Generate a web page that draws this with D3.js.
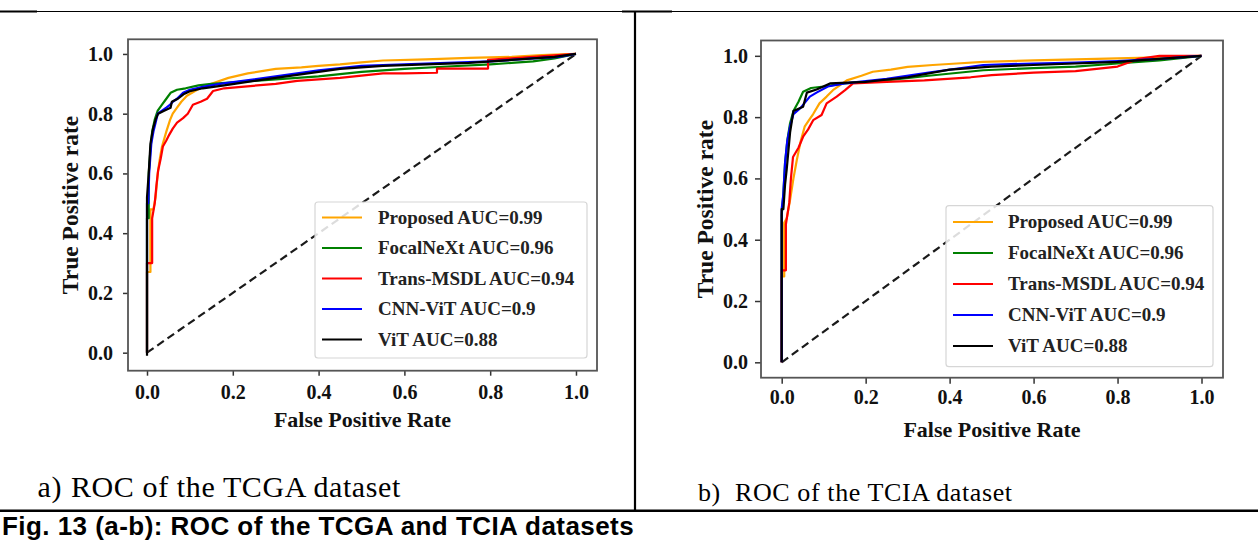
<!doctype html>
<html lang="en">
  <head>
    <meta charset="UTF-8" />
    <title>ROC of the TCGA and TCIA datasets</title>
    <script src="https://d3js.org/d3.v7.min.js"></script>
    <style>
      body {
        margin: 0;
        background: #fff;
      }
      svg text {
        font-family: 'Liberation Serif', 'Times New Roman', serif;
      }
      .tick text {
        font-size: 20px;
        font-weight: bold;
        fill: #111;
      }
      .tick line {
        stroke: #333;
        stroke-width: 1.5;
      }
      .axis-label {
        font-size: 22px;
        font-weight: bold;
        fill: #111;
      }
      .legend-text {
        font-size: 19px;
        font-weight: bold;
        fill: #222;
      }
      .sub-caption {
        fill: #000;
        letter-spacing: 0.6px;
      }
      .fig-caption {
        font-family: 'Liberation Sans', Arial, sans-serif !important;
        font-weight: bold;
        font-size: 26px;
        letter-spacing: 0.45px;
      }
    </style>
  </head>
  <body>
    <svg id="chart" width="1258" height="541"></svg>

    <script>
      // axis ticks and legend labels
      const xTicks = [0, 0.2, 0.4, 0.6, 0.8, 1.0]
      const yTicks = [0, 0.2, 0.4, 0.6, 0.8, 1.0]
      const legendLabels = [
        'Proposed AUC=0.99',
        'FocalNeXt AUC=0.96',
        'Trans-MSDL AUC=0.94',
        'CNN-ViT AUC=0.9',
        'ViT AUC=0.88',
      ]
      const lineColors = ['#ffa500', '#008000', '#ff0000', '#0000ff', '#000000']
      const chanceLine = [[0, 0], [1, 1]]

      // ROC points [fpr, tpr]
      const tcgaProposed = [[0, 0], [0, 0.27], [0.008, 0.27], [0.008, 0.48], [0.015, 0.48], [0.02, 0.52], [0.025, 0.6], [0.03, 0.65], [0.035, 0.69], [0.045, 0.74], [0.054, 0.78], [0.06, 0.8], [0.07, 0.82], [0.08, 0.84], [0.093, 0.86], [0.105, 0.87], [0.124, 0.886], [0.15, 0.9], [0.19, 0.92], [0.235, 0.935], [0.3, 0.95], [0.36, 0.955], [0.4, 0.96], [0.45, 0.965], [0.5, 0.972], [0.55, 0.978], [0.65, 0.982], [0.75, 0.987], [0.85, 0.99], [0.92, 0.996], [1, 1]]
      const tcgaFocalNeXt = [[0, 0], [0, 0.45], [0.004, 0.45], [0.004, 0.6], [0.008, 0.68], [0.012, 0.74], [0.018, 0.78], [0.025, 0.81], [0.035, 0.83], [0.045, 0.85], [0.055, 0.87], [0.07, 0.88], [0.09, 0.885], [0.12, 0.895], [0.15, 0.9], [0.2, 0.905], [0.3, 0.915], [0.4, 0.925], [0.5, 0.94], [0.6, 0.95], [0.7, 0.958], [0.8, 0.965], [0.9, 0.975], [0.95, 0.985], [1, 1]]
      const tcgaTransMSDL = [[0, 0], [0, 0.3], [0.012, 0.3], [0.012, 0.45], [0.018, 0.5], [0.022, 0.56], [0.026, 0.61], [0.032, 0.65], [0.037, 0.69], [0.045, 0.71], [0.052, 0.73], [0.06, 0.75], [0.07, 0.77], [0.084, 0.785], [0.095, 0.8], [0.107, 0.83], [0.125, 0.84], [0.14, 0.85], [0.154, 0.876], [0.18, 0.885], [0.22, 0.89], [0.3, 0.9], [0.35, 0.91], [0.4, 0.915], [0.45, 0.92], [0.55, 0.935], [0.6, 0.935], [0.676, 0.937], [0.676, 0.951], [0.795, 0.951], [0.795, 0.98], [0.9, 0.99], [1, 1]]
      const tcgaCnnVit = [[0, 0], [0, 0.5], [0.003, 0.5], [0.005, 0.6], [0.01, 0.7], [0.015, 0.74], [0.02, 0.77], [0.025, 0.8], [0.035, 0.81], [0.045, 0.82], [0.054, 0.83], [0.06, 0.84], [0.07, 0.85], [0.084, 0.87], [0.1, 0.88], [0.13, 0.89], [0.17, 0.9], [0.25, 0.915], [0.3, 0.925], [0.4, 0.945], [0.5, 0.96], [0.6, 0.965], [0.7, 0.97], [0.8, 0.975], [0.9, 0.985], [0.96, 0.99], [1, 1]]
      const tcgaVit = [[0, -0.01], [0, 0.52], [0.004, 0.6], [0.008, 0.7], [0.014, 0.75], [0.02, 0.78], [0.026, 0.8], [0.04, 0.81], [0.055, 0.82], [0.058, 0.84], [0.072, 0.85], [0.085, 0.865], [0.1, 0.875], [0.13, 0.885], [0.18, 0.895], [0.25, 0.91], [0.35, 0.93], [0.45, 0.95], [0.55, 0.96], [0.65, 0.965], [0.75, 0.97], [0.85, 0.98], [0.95, 0.99], [1, 1]]

      // ROC points [fpr, tpr]
      const tciaProposed = [[0, 0], [0, 0.28], [0.006, 0.28], [0.006, 0.455], [0.012, 0.47], [0.02, 0.53], [0.028, 0.6], [0.036, 0.66], [0.045, 0.72], [0.055, 0.77], [0.065, 0.79], [0.075, 0.81], [0.09, 0.845], [0.107, 0.867], [0.122, 0.888], [0.14, 0.905], [0.155, 0.92], [0.19, 0.935], [0.217, 0.948], [0.26, 0.955], [0.3, 0.964], [0.36, 0.97], [0.417, 0.975], [0.48, 0.98], [0.6, 0.985], [0.75, 0.99], [0.9, 0.995], [1, 1]]
      const tciaFocalNeXt = [[0, 0], [0, 0.48], [0.004, 0.55], [0.008, 0.65], [0.014, 0.73], [0.02, 0.78], [0.028, 0.82], [0.04, 0.85], [0.051, 0.883], [0.07, 0.895], [0.1, 0.9], [0.15, 0.91], [0.25, 0.92], [0.35, 0.935], [0.48, 0.953], [0.6, 0.96], [0.7, 0.965], [0.8, 0.975], [0.9, 0.985], [1, 1]]
      const tciaTransMSDL = [[0, 0], [0, 0.3], [0.01, 0.3], [0.01, 0.45], [0.018, 0.52], [0.022, 0.6], [0.027, 0.67], [0.04, 0.7], [0.051, 0.736], [0.063, 0.76], [0.075, 0.79], [0.095, 0.807], [0.107, 0.845], [0.131, 0.867], [0.151, 0.888], [0.17, 0.91], [0.25, 0.915], [0.34, 0.92], [0.45, 0.93], [0.5, 0.937], [0.6, 0.945], [0.7, 0.95], [0.8, 0.965], [0.85, 0.99], [0.9, 1.0], [1, 1]]
      const tciaCnnVit = [[0, 0], [0, 0.5], [0.004, 0.55], [0.008, 0.65], [0.013, 0.72], [0.02, 0.77], [0.028, 0.81], [0.045, 0.83], [0.067, 0.867], [0.083, 0.88], [0.11, 0.9], [0.15, 0.91], [0.25, 0.925], [0.35, 0.945], [0.48, 0.97], [0.6, 0.975], [0.7, 0.978], [0.8, 0.983], [0.9, 0.99], [1, 1]]
      const tciaVit = [[0, 0], [0, 0.5], [0.004, 0.5], [0.008, 0.58], [0.012, 0.63], [0.02, 0.75], [0.028, 0.82], [0.051, 0.834], [0.06, 0.88], [0.083, 0.89], [0.115, 0.91], [0.2, 0.915], [0.3, 0.93], [0.4, 0.955], [0.5, 0.965], [0.6, 0.97], [0.7, 0.975], [0.8, 0.98], [0.9, 0.99], [1, 1]]

      const tcgaCurves = [tcgaProposed, tcgaFocalNeXt, tcgaTransMSDL, tcgaCnnVit, tcgaVit]
      const tciaCurves = [tciaProposed, tciaFocalNeXt, tciaTransMSDL, tciaCnnVit, tciaVit]

      const svg = d3.select('#chart')

      const panels = [
        {
          curves: tcgaCurves,
          box: { left: 128, right: 597, top: 39.3, bottom: 370.7 },
          xDomain: [-0.0443, 1.049],
          yDomain: [-0.0603, 1.049],
          tick: { size: 5, ypad: 10, xpad: 9.5 },
          yLabelX: 70,
          xLabelY: 426.7,
          legend: { x: 315, y: 202, w: 272, h: 156, first: 217.5, step: 30.5, lx: 322, tx: 378 },
        },
        {
          curves: tciaCurves,
          box: { left: 761, right: 1223, top: 40.5, bottom: 377.7 },
          xDomain: [-0.0493, 1.0512],
          yDomain: [-0.0502, 1.05],
          tick: { size: 6, ypad: 7, xpad: 6.5 },
          yLabelX: 705,
          xLabelY: 436.7,
          legend: { x: 946, y: 205.7, w: 267, h: 161, first: 222, step: 31, lx: 953, tx: 1008 },
        },
      ]

      panels.forEach((p) => {
        const x = d3.scaleLinear().domain(p.xDomain).range([p.box.left, p.box.right])
        const y = d3.scaleLinear().domain(p.yDomain).range([p.box.bottom, p.box.top])
        const g = svg.append('g')

        // x axis
        g.append('g')
          .attr('transform', `translate(0,${p.box.bottom})`)
          .call(
            d3.axisBottom(x)
              .tickValues(xTicks)
              .tickFormat(d3.format('.1f'))
              .tickSize(p.tick.size)
              .tickSizeOuter(0)
              .tickPadding(p.tick.xpad)
          )
          .call((a) => a.select('.domain').remove())

        // y axis
        g.append('g')
          .attr('transform', `translate(${p.box.left},0)`)
          .call(
            d3.axisLeft(y)
              .tickValues(yTicks)
              .tickFormat(d3.format('.1f'))
              .tickSize(p.tick.size)
              .tickSizeOuter(0)
              .tickPadding(p.tick.ypad)
          )
          .call((a) => a.select('.domain').remove())

        g.selectAll('.tick text').attr('font-family', 'Liberation Serif')

        // chance diagonal
        const line = d3
          .line()
          .x((d) => x(d[0]))
          .y((d) => y(d[1]))

        g.append('path')
          .datum(chanceLine)
          .attr('d', line)
          .attr('fill', 'none')
          .attr('stroke', '#1a1a1a')
          .attr('stroke-width', 2.2)
          .attr('stroke-dasharray', '8,4.5')

        // ROC curves
        g.selectAll('.roc')
          .data(p.curves)
          .enter()
          .append('path')
          .attr('class', 'roc')
          .attr('d', line)
          .attr('fill', 'none')
          .attr('stroke', (d, i) => lineColors[i])
          .attr('stroke-width', 2.2)
          .attr('stroke-linejoin', 'round')

        // frame
        g.append('rect')
          .attr('x', p.box.left)
          .attr('y', p.box.top)
          .attr('width', p.box.right - p.box.left)
          .attr('height', p.box.bottom - p.box.top)
          .attr('fill', 'none')
          .attr('stroke', '#555')
          .attr('stroke-width', 1.8)

        // legend
        const lg = p.legend
        g.append('rect')
          .attr('x', lg.x)
          .attr('y', lg.y)
          .attr('width', lg.w)
          .attr('height', lg.h)
          .attr('rx', 3)
          .attr('fill', '#fff')
          .attr('fill-opacity', 0.85)
          .attr('stroke', '#d6d6d6')
          .attr('stroke-width', 1.2)

        legendLabels.forEach((label, i) => {
          const ly = lg.first + i * lg.step
          g.append('line')
            .attr('x1', lg.lx)
            .attr('x2', lg.lx + 40)
            .attr('y1', ly)
            .attr('y2', ly)
            .attr('stroke', lineColors[i])
            .attr('stroke-width', 2.2)
          g.append('text')
            .attr('class', 'legend-text')
            .attr('x', lg.tx)
            .attr('y', ly)
            .attr('dy', '0.34em')
            .text(label)
        })

        // axis titles
        g.append('text')
          .attr('class', 'axis-label')
          .attr('text-anchor', 'middle')
          .attr('x', (p.box.left + p.box.right) / 2)
          .attr('y', p.xLabelY)
          .text('False Positive Rate')

        g.append('text')
          .attr('class', 'axis-label')
          .attr('text-anchor', 'middle')
          .attr('transform', `translate(${p.yLabelX},${(p.box.top + p.box.bottom) / 2}) rotate(-90)`)
          .attr('dy', '0.35em')
          .style('font-size', '23.5px')
          .text('True Positive rate')
      })

      // table rules around the two panels
      const rules = svg.append('g').attr('stroke', '#000')
      rules.append('line').attr('x1', 0).attr('x2', 1258).attr('y1', 11.5).attr('y2', 11.5).attr('stroke-width', 1)
      rules.append('line').attr('x1', 0).attr('x2', 37).attr('y1', 11.5).attr('y2', 11.5).attr('stroke-width', 2)
      rules.append('line').attr('x1', 622).attr('x2', 672).attr('y1', 11.5).attr('y2', 11.5).attr('stroke-width', 2)
      rules.append('line').attr('x1', 635).attr('x2', 635).attr('y1', 11).attr('y2', 511).attr('stroke-width', 2.2)
      rules.append('line').attr('x1', 0).attr('x2', 1258).attr('y1', 510.7).attr('y2', 510.7).attr('stroke-width', 2.6)

      // sub-captions
      svg.append('text').attr('class', 'sub-caption').attr('x', 37.5).attr('y', 497).style('font-size', '30px').text('a)')
      svg.append('text').attr('class', 'sub-caption').attr('x', 71).attr('y', 497).style('font-size', '30px').text('ROC of the TCGA dataset')
      svg.append('text').attr('class', 'sub-caption').attr('x', 698).attr('y', 501).style('font-size', '26px').text('b)')
      svg.append('text').attr('class', 'sub-caption').attr('x', 735).attr('y', 501).style('font-size', '26px').text('ROC of the TCIA dataset')

      // figure caption
      svg.append('text')
        .attr('class', 'fig-caption')
        .attr('x', 2)
        .attr('y', 535)
        .text('Fig. 13 (a-b): ROC of the TCGA and TCIA datasets')
    </script>
  </body>
</html>
